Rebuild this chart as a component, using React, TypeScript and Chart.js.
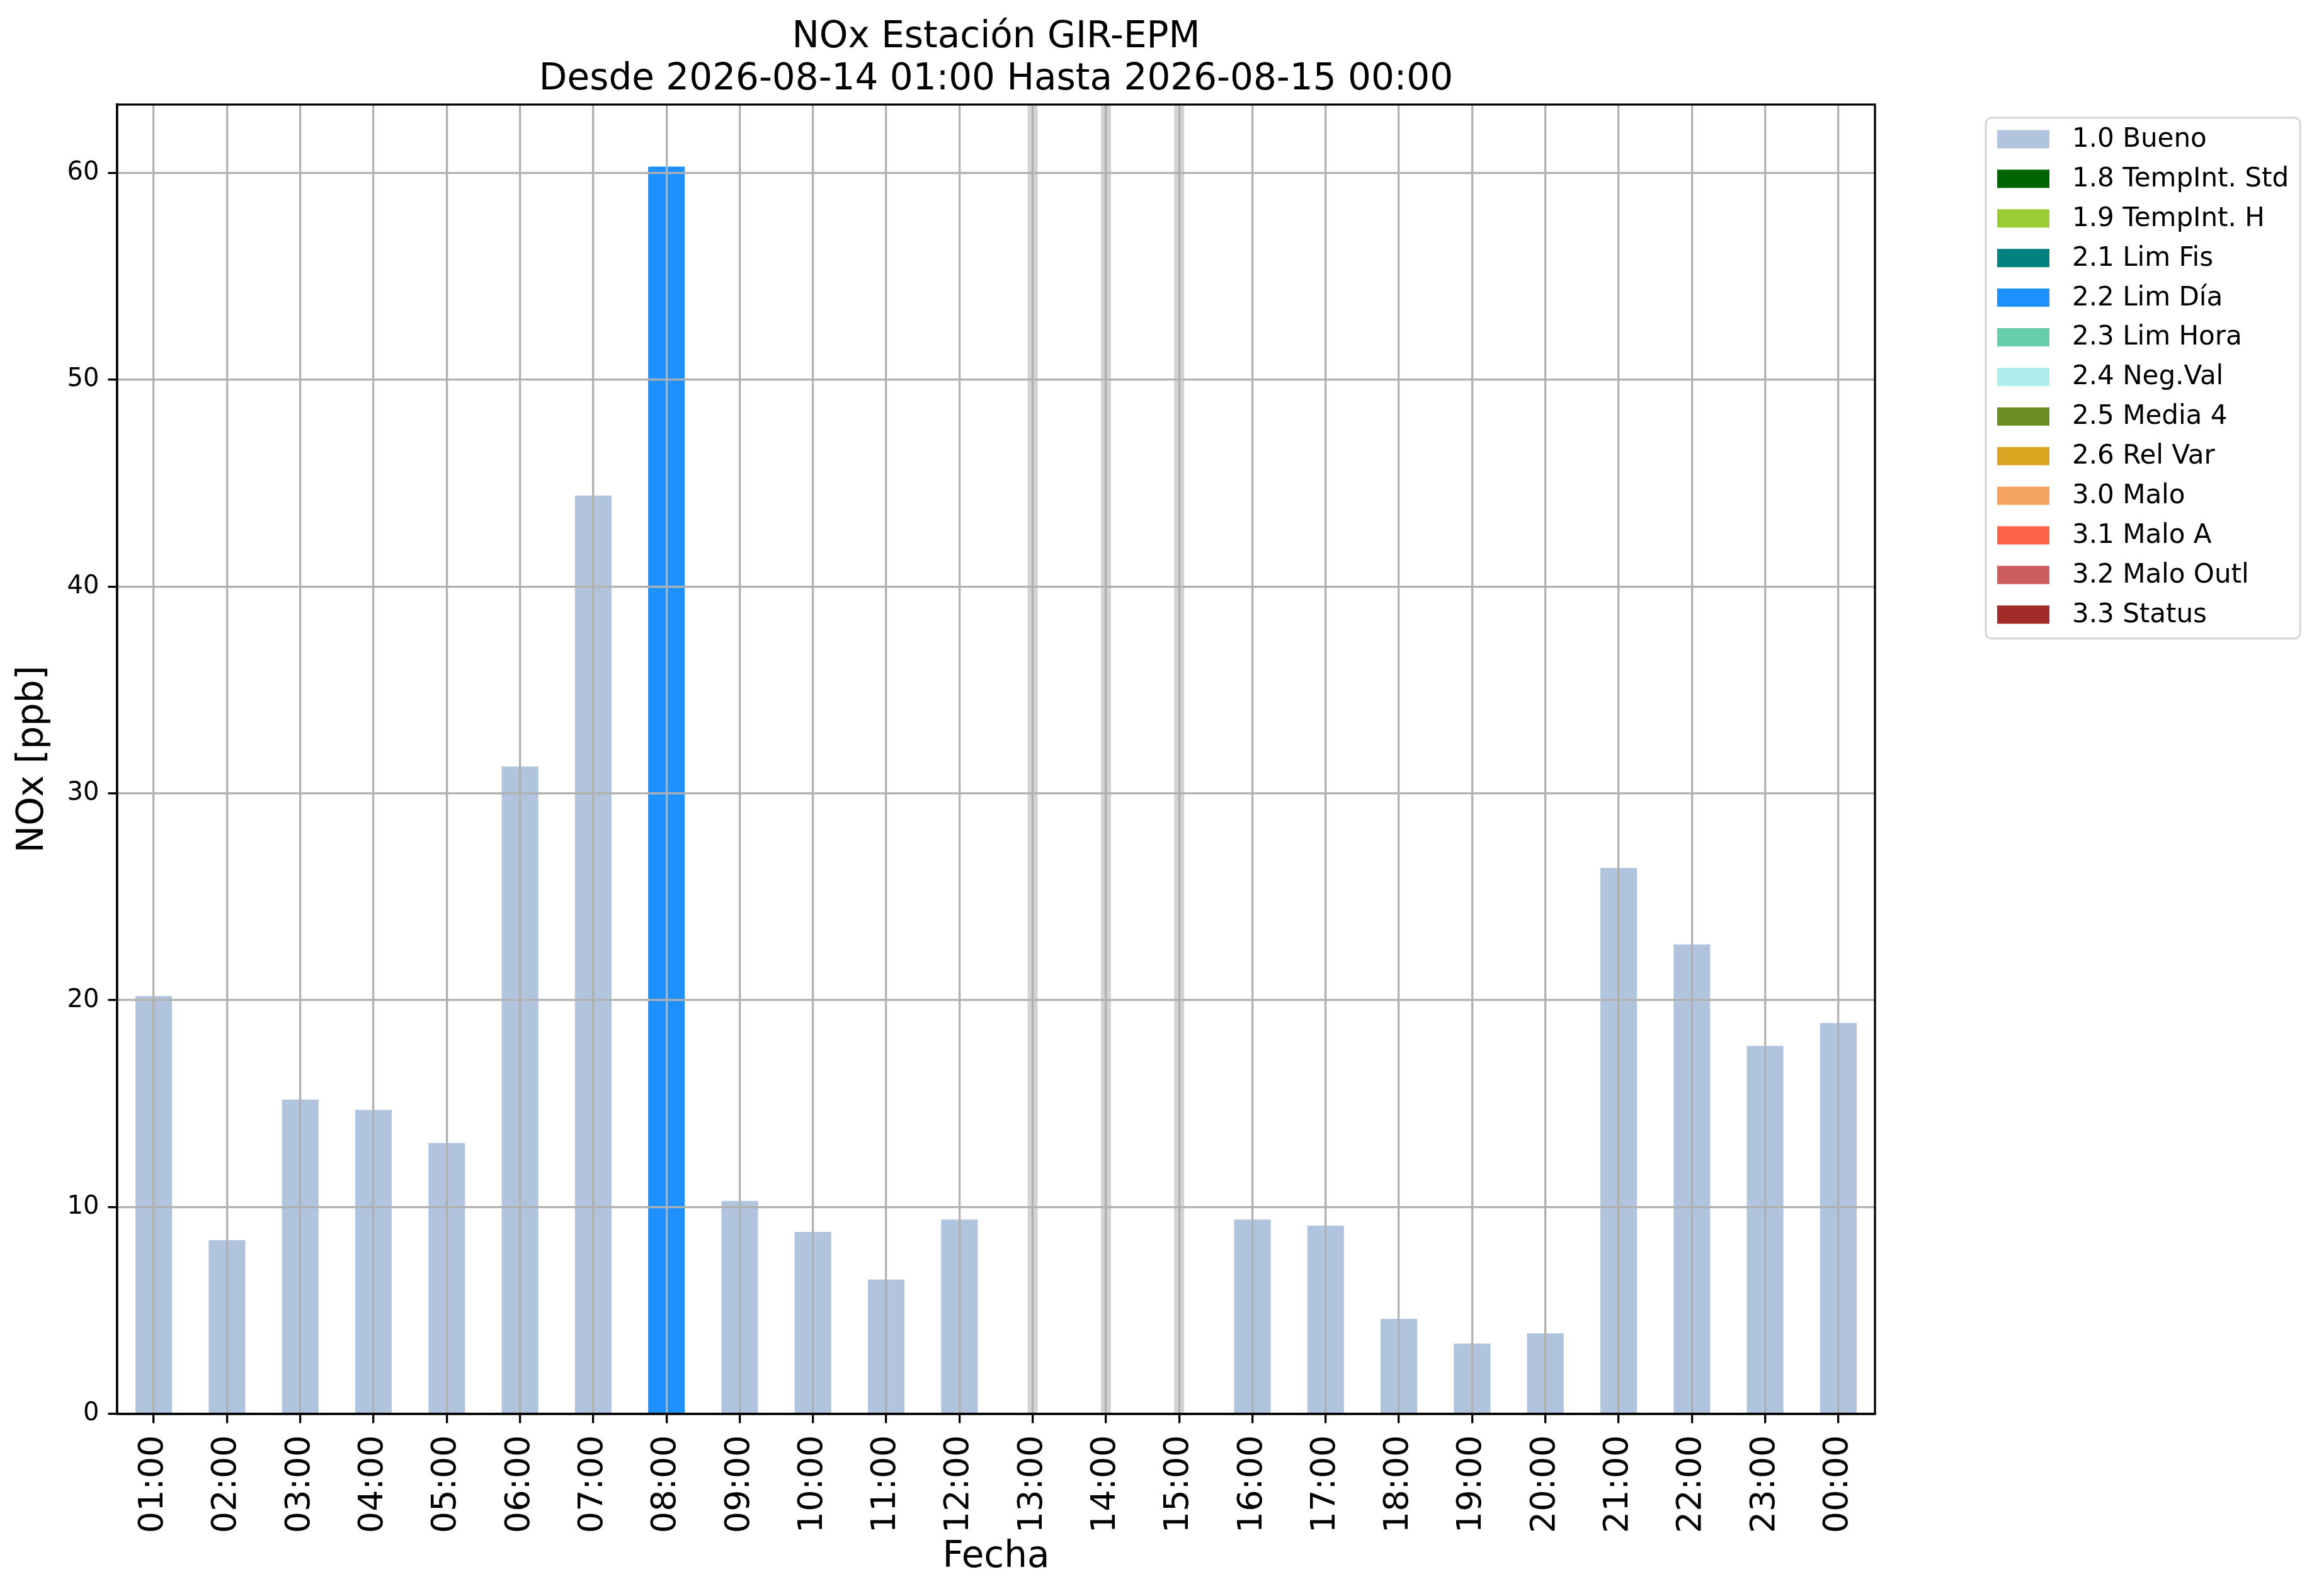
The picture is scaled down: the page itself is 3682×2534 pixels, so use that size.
import { useEffect, useRef } from "react";
import { Chart, registerables } from "chart.js";

Chart.register(...registerables);

const hours = [
  "01:00", "02:00", "03:00", "04:00", "05:00", "06:00", "07:00", "08:00",
  "09:00", "10:00", "11:00", "12:00", "13:00", "14:00", "15:00", "16:00",
  "17:00", "18:00", "19:00", "20:00", "21:00", "22:00", "23:00", "00:00",
];

// NOx [ppb] por hora (null = sin dato)
const noxValues: (number | null)[] = [
  20.2, 8.4, 15.2, 14.7, 13.1, 31.3, 44.4, 60.3,
  10.3, 8.8, 6.5, 9.4, null, null, null, 9.4,
  9.1, 4.6, 3.4, 3.9, 26.4, 22.7, 17.8, 18.9,
];

// bandera de calidad de cada hora
const hourFlags = [
  "1.0", "1.0", "1.0", "1.0", "1.0", "1.0", "1.0", "2.2",
  "1.0", "1.0", "1.0", "1.0", "1.0", "1.0", "1.0", "1.0",
  "1.0", "1.0", "1.0", "1.0", "1.0", "1.0", "1.0", "1.0",
];

const flagCodes = ["1.0", "1.8", "1.9", "2.1", "2.2", "2.3", "2.4", "2.5", "2.6", "3.0", "3.1", "3.2", "3.3"];
const flagNames = [
  "Bueno", "TempInt. Std", "TempInt. H", "Lim Fis", "Lim Día", "Lim Hora",
  "Neg.Val", "Media 4", "Rel Var", "Malo", "Malo A", "Malo Outl", "Status",
];
const flagColors = [
  "#b0c4de", "#006400", "#9acd32", "#008080", "#1e90ff", "#66cdaa",
  "#afeeee", "#6b8e23", "#daa520", "#f4a460", "#ff6347", "#cd5c5c", "#a52a2a",
];

const titleLines = ["NOx Estación GIR-EPM", "Desde 2026-08-14 01:00 Hasta 2026-08-15 00:00"];
const yMax = 63.3;

const FONT = "'DejaVu Sans', sans-serif";
const LW = 3.3;

// franjas grises en las horas sin dato
const gapBands = {
  id: "gapBands",
  beforeDatasetsDraw(chart: any) {
    const { ctx, chartArea, scales } = chart;
    ctx.save();
    ctx.fillStyle = "#d3d3d3";
    noxValues.forEach((v, i) => {
      if (v !== null) return;
      const x = scales.x.getPixelForValue(i);
      ctx.fillRect(x - 8, chartArea.top, 16, chartArea.bottom - chartArea.top);
    });
    ctx.restore();
  },
};

// marco completo + título centrado sobre el área del gráfico
const frameAndTitle = {
  id: "frameAndTitle",
  afterDraw(chart: any) {
    const { ctx, chartArea } = chart;
    ctx.save();
    ctx.strokeStyle = "#000";
    ctx.lineWidth = LW;
    ctx.strokeRect(chartArea.left, chartArea.top, chartArea.right - chartArea.left, chartArea.bottom - chartArea.top);
    ctx.fillStyle = "#000";
    ctx.font = `58px ${FONT}`;
    ctx.textAlign = "center";
    ctx.textBaseline = "alphabetic";
    const cx = (chartArea.left + chartArea.right) / 2;
    ctx.fillText(titleLines[0], cx, chartArea.top - 91);
    ctx.fillText(titleLines[1], cx, chartArea.top - 24);
    ctx.restore();
  },
};

const boxLegend = {
  id: "boxLegend",
  afterDraw(chart: any) {
    const { ctx, chartArea } = chart;
    const items = chart.data.datasets;
    const left = chartArea.right + 176;
    const top = chartArea.top + 21;
    const rowH = 62.9;
    ctx.save();
    ctx.font = `42px ${FONT}`;
    const textX = left + 137;
    const maxW = Math.max(...items.map((d: any) => ctx.measureText(d.label).width));
    const w = textX - left + maxW + 18;
    const h = 34 + rowH * (items.length - 1) + 38;
    const r = 9;
    ctx.beginPath();
    ctx.moveTo(left + r, top);
    ctx.arcTo(left + w, top, left + w, top + h, r);
    ctx.arcTo(left + w, top + h, left, top + h, r);
    ctx.arcTo(left, top + h, left, top, r);
    ctx.arcTo(left, top, left + w, top, r);
    ctx.closePath();
    ctx.fillStyle = "rgba(255,255,255,0.8)";
    ctx.fill();
    ctx.strokeStyle = "#d6d6d6";
    ctx.lineWidth = 3;
    ctx.stroke();
    ctx.textAlign = "left";
    ctx.textBaseline = "middle";
    items.forEach((d: any, i: number) => {
      const cy = top + 34 + i * rowH;
      ctx.fillStyle = d.backgroundColor;
      ctx.fillRect(left + 18, cy - 14.5, 83, 29);
      ctx.fillStyle = "#000";
      ctx.fillText(d.label, textX, cy + 1);
    });
    ctx.restore();
  },
};

export default function App() {
  const canvasRef = useRef<HTMLCanvasElement>(null);
  const chartInstance = useRef<Chart | null>(null);

  useEffect(() => {
    document.body.style.margin = "0";
    if (!canvasRef.current) return;
    const ctx = canvasRef.current.getContext("2d");
    if (!ctx) return;

    const datasets = flagCodes.map((code, k) => ({
      label: `${code} ${flagNames[k]}`,
      data: noxValues.map((v, i) => (hourFlags[i] === code ? v : null)),
      backgroundColor: flagColors[k],
      borderWidth: 0,
      barPercentage: 0.5,
      categoryPercentage: 1,
    }));

    chartInstance.current = new Chart(ctx, {
      type: "bar",
      data: { labels: hours, datasets },
      options: {
        animation: false,
        responsive: true,
        maintainAspectRatio: false,
        devicePixelRatio: 1,
        events: [],
        layout: { padding: { top: 166, left: 0, right: 705, bottom: 0 } },
        plugins: {
          legend: { display: false },
          title: { display: false },
          tooltip: { enabled: false },
        },
        scales: {
          x: {
            stacked: true,
            afterFit: (scale: any) => {
              scale.height = 289;
            },
            grid: {
              z: 1,
              offset: false,
              color: "#b0b0b0",
              lineWidth: LW,
              drawTicks: true,
              tickLength: 14.6,
              tickColor: "#000",
              tickWidth: LW,
            },
            border: { display: true, color: "#000", width: LW, z: 2 },
            ticks: {
              autoSkip: false,
              minRotation: 90,
              maxRotation: 90,
              padding: 19,
              color: "#000",
              font: { family: FONT, size: 54 },
            },
            title: {
              display: true,
              text: "Fecha",
              color: "#000",
              font: { family: FONT, size: 58, lineHeight: 1 },
              padding: { top: 0, bottom: 32 },
            },
          },
          y: {
            stacked: true,
            min: 0,
            max: yMax,
            afterFit: (scale: any) => {
              scale.width = 186;
            },
            grid: {
              z: 1,
              color: "#b0b0b0",
              lineWidth: LW,
              drawTicks: true,
              tickLength: 14.6,
              tickColor: "#000",
              tickWidth: LW,
            },
            border: { display: true, color: "#000", width: LW, z: 2 },
            ticks: {
              stepSize: 10,
              includeBounds: false,
              padding: 14,
              color: "#000",
              font: { family: FONT, size: 40 },
            },
            title: {
              display: true,
              text: "NOx [ppb]",
              color: "#000",
              font: { family: FONT, size: 58, lineHeight: 1 },
              padding: { top: 24, bottom: 0 },
            },
          },
        },
      },
      plugins: [gapBands, frameAndTitle, boxLegend],
    } as any);

    return () => {
      if (chartInstance.current) {
        chartInstance.current.destroy();
        chartInstance.current = null;
      }
    };
  }, []);

  return (
    <div style={{ position: "absolute", left: 0, top: 0, width: "3682px", height: "2534px", background: "white" }}>
      <canvas ref={canvasRef} />
    </div>
  );
}
